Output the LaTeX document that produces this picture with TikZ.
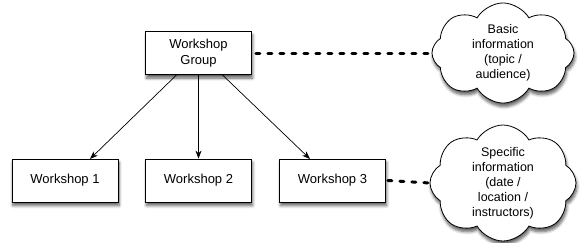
\documentclass[tikz,border=0pt]{standalone}
\usepackage{fontspec}
\setmainfont{Liberation Sans}
\usetikzlibrary{shapes.symbols,shadows.blur,arrows.meta}
\begin{document}
\begin{tikzpicture}[x=1pt,y=-1pt,
  shadowed/.style={blur shadow={shadow xshift=1pt, shadow yshift=-3.5pt, shadow blur steps=6, shadow blur radius=3pt, shadow opacity=65}},
  wbox/.style={draw, line width=0.8pt, fill=white, minimum width=106pt, minimum height=43pt,
    align=center, font=\fontsize{13}{15.5}\selectfont, shadowed},
  infocloud/.style={cloud, cloud puffs=8, cloud puff arc=120, draw, line width=0.8pt, fill=white,
    align=center, font=\fontsize{12.5}{15}\selectfont, inner sep=0pt, shadowed},
  arr/.style={-{Stealth[length=8pt,width=6pt]}, line width=0.7pt},
  dotline/.style={line width=3pt, dash pattern=on 4pt off 8pt, line cap=round}]
\useasboundingbox (0,0) rectangle (582,242);
\node[wbox] (g) at (198.5,53) {Workshop\\Group};
\node[wbox] (w1) at (65,180.5) {Workshop 1};
\node[wbox] (w2) at (198.5,180.5) {Workshop 2};
\node[wbox] (w3) at (332.5,180.5) {Workshop 3};
\node[infocloud, minimum width=142pt, minimum height=82pt] (c1) at (503,53) {Basic\\information\\(topic /\\audience)};
\node[infocloud, minimum width=146pt, minimum height=88pt] (c2) at (503,183) {Specific\\information\\(date /\\location /\\instructors)};
\coordinate (ga) at (177,74.5);
\coordinate (gc) at (222,74.5);
\coordinate (w1a) at (90,159);
\coordinate (w3a) at (310,159);
\draw[arr] (ga) -- (w1a);
\draw[arr] (g.south) -- (w2.north);
\draw[arr] (gc) -- (w3a);
\draw[dotline] (g.east) ++(4,0) -- (c1.west);
\draw[dotline] (w3.east) ++(2,0) -- (c2.west);
\end{tikzpicture}
\end{document}
